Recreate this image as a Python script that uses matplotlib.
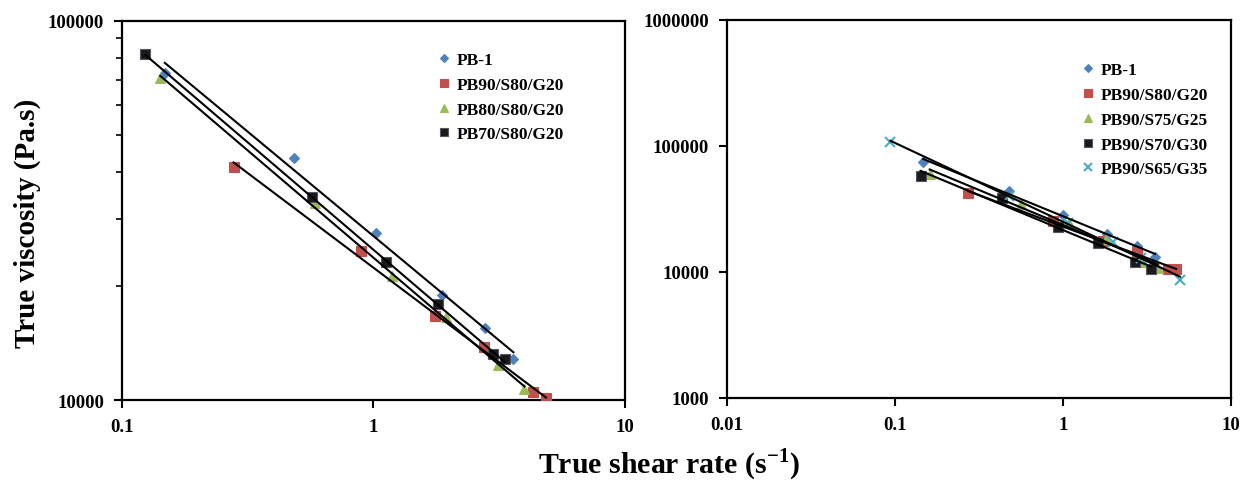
import numpy as np
import matplotlib
matplotlib.use("Agg")
import matplotlib.pyplot as plt
from matplotlib.ticker import FixedLocator, FuncFormatter, LogLocator, NullLocator

plt.rcParams['font.family'] = ['Liberation Serif', 'DejaVu Serif']
plt.rcParams['font.weight'] = 'bold'
plt.rcParams['mathtext.fontset'] = 'custom'
plt.rcParams['mathtext.rm'] = 'Liberation Serif:bold'
plt.rcParams['mathtext.bf'] = 'Liberation Serif:bold'

# left panel: PB-1 and PB blends at S80/G20
left_names = ['PB-1', 'PB90/S80/G20', 'PB80/S80/G20', 'PB70/S80/G20']
left_rate = [
    [0.148, 0.485, 1.02, 1.88, 2.78, 3.6],
    [0.278, 0.891, 1.75, 2.75, 4.3, 4.85],
    [0.142, 0.585, 1.19, 1.94, 3.13, 3.98],
    [0.124, 0.568, 1.12, 1.81, 3.0, 3.32],
]
left_visc = [
    [73100, 43600, 27600, 18900, 15500, 12800],
    [41200, 24800, 16700, 13800, 10500, 10100],
    [70600, 33000, 21300, 16600, 12400, 10700],
    [81600, 34300, 23100, 17900, 13200, 12800],
]

# right panel: PB90 with varying S/G ratio
right_names = ['PB-1', 'PB90/S80/G20', 'PB90/S75/G25', 'PB90/S70/G30', 'PB90/S65/G35']
right_rate = [
    [0.147, 0.477, 1.0, 1.83, 2.75, 3.53],
    [0.273, 0.871, 1.73, 2.76, 4.21, 4.71],
    [0.161, 0.562, 1.08, 1.80, 2.99, 3.67],
    [0.142, 0.432, 0.933, 1.61, 2.69, 3.34],
    [0.094, 0.48, 1.07, 1.99, 2.9, 4.97],
]
right_visc = [
    [74700, 44200, 28500, 20000, 16200, 13100],
    [42400, 25500, 17700, 14400, 10600, 10500],
    [60000, 34700, 24500, 18300, 12000, 10800],
    [58100, 38500, 22800, 17000, 12000, 10600],
    [107000, 40000, 24500, 17300, 12800, 8650],
]

styles = {
    'PB-1': dict(marker='D', color='#4F81BD', ms=5),
    'PB90/S80/G20': dict(marker='s', color='#C0504D', ms=7),
    'PB80/S80/G20': dict(marker='^', color='#9BBB59', ms=7),
    'PB90/S75/G25': dict(marker='^', color='#9BBB59', ms=7),
    'PB70/S80/G20': dict(marker='s', color='#1a1a1a', ms=7, mec='#555566'),
    'PB90/S70/G30': dict(marker='s', color='#1a1a1a', ms=7, mec='#555566'),
    'PB90/S65/G35': dict(marker='x', color='#4BACC6', ms=7),
}


def plain(v, pos):
    return '{:.10g}'.format(v)


def draw_panel(ax, names, rates, viscs, xlim, ylim, minor_y):
    for name, x, y in zip(names, rates, viscs):
        st = styles[name]
        ax.plot(x, y, linestyle='none', marker=st['marker'], color=st['color'],
                ms=st['ms'], mec=st.get('mec', st['color']), mew=1.5 if st['marker'] == 'x' else 0.8,
                label=name, zorder=3)
        # power-law trend line
        k, b = np.polyfit(np.log10(x), np.log10(y), 1)
        xs = np.array([min(x), max(x)])
        ax.plot(xs, 10 ** (k * np.log10(xs) + b), color='black', lw=1.5, zorder=4)
    ax.set_xscale('log')
    ax.set_yscale('log')
    ax.set_xlim(*xlim)
    ax.set_ylim(*ylim)
    xt = [10.0 ** e for e in range(int(np.log10(xlim[0])), int(np.log10(xlim[1])) + 1)]
    yt = [10.0 ** e for e in range(int(round(np.log10(ylim[0]))), int(round(np.log10(ylim[1]))) + 1)]
    ax.xaxis.set_major_locator(FixedLocator(xt))
    ax.yaxis.set_major_locator(FixedLocator(yt))
    ax.xaxis.set_major_formatter(FuncFormatter(plain))
    ax.yaxis.set_major_formatter(FuncFormatter(plain))
    ax.xaxis.set_minor_locator(NullLocator())
    if minor_y:
        ax.yaxis.set_minor_locator(LogLocator(base=10, subs=np.arange(2, 10)))
    else:
        ax.yaxis.set_minor_locator(NullLocator())
    ax.yaxis.set_minor_formatter(FuncFormatter(lambda v, p: ''))
    ax.tick_params(axis='both', which='major', direction='out', length=6, width=1.5,
                   labelsize=13.5, pad=7)
    ax.tick_params(axis='y', which='minor', direction='out', length=4, width=1.2)
    for s in ax.spines.values():
        s.set_linewidth(1.6)
    for lab in ax.get_xticklabels() + ax.get_yticklabels():
        lab.set_fontweight('bold')
    leg = ax.legend(loc='upper right', frameon=False, handlelength=0.6,
                    handletextpad=0.4, labelspacing=0.5, markerscale=0.8,
                    prop={'weight': 'bold', 'size': 12.5})
    return leg


fig = plt.figure(figsize=(12.42, 4.81), dpi=100)
ax1 = fig.add_axes([0.0982, 0.1663, 0.405, 0.788])
ax2 = fig.add_axes([0.5853, 0.1705, 0.4058, 0.786])

leg1 = draw_panel(ax1, left_names, left_rate, left_visc, (0.1, 10), (1e4, 1e5), True)
leg1.set_bbox_to_anchor((0.91, 0.96), transform=ax1.transAxes)
leg2 = draw_panel(ax2, right_names, right_rate, right_visc, (0.01, 10), (1e3, 1e6), False)
leg2.set_bbox_to_anchor((0.985, 0.93), transform=ax2.transAxes)

fig.text(0.022, 0.535, 'True viscosity (Pa.s)', rotation=90, ha='center', va='center',
         fontsize=21, fontweight='bold')
fig.text(0.539, 0.033, 'True shear rate (s$^{-1}$)', ha='center', va='center',
         fontsize=21.5, fontweight='bold')

fig.savefig('out.png', dpi=100)
